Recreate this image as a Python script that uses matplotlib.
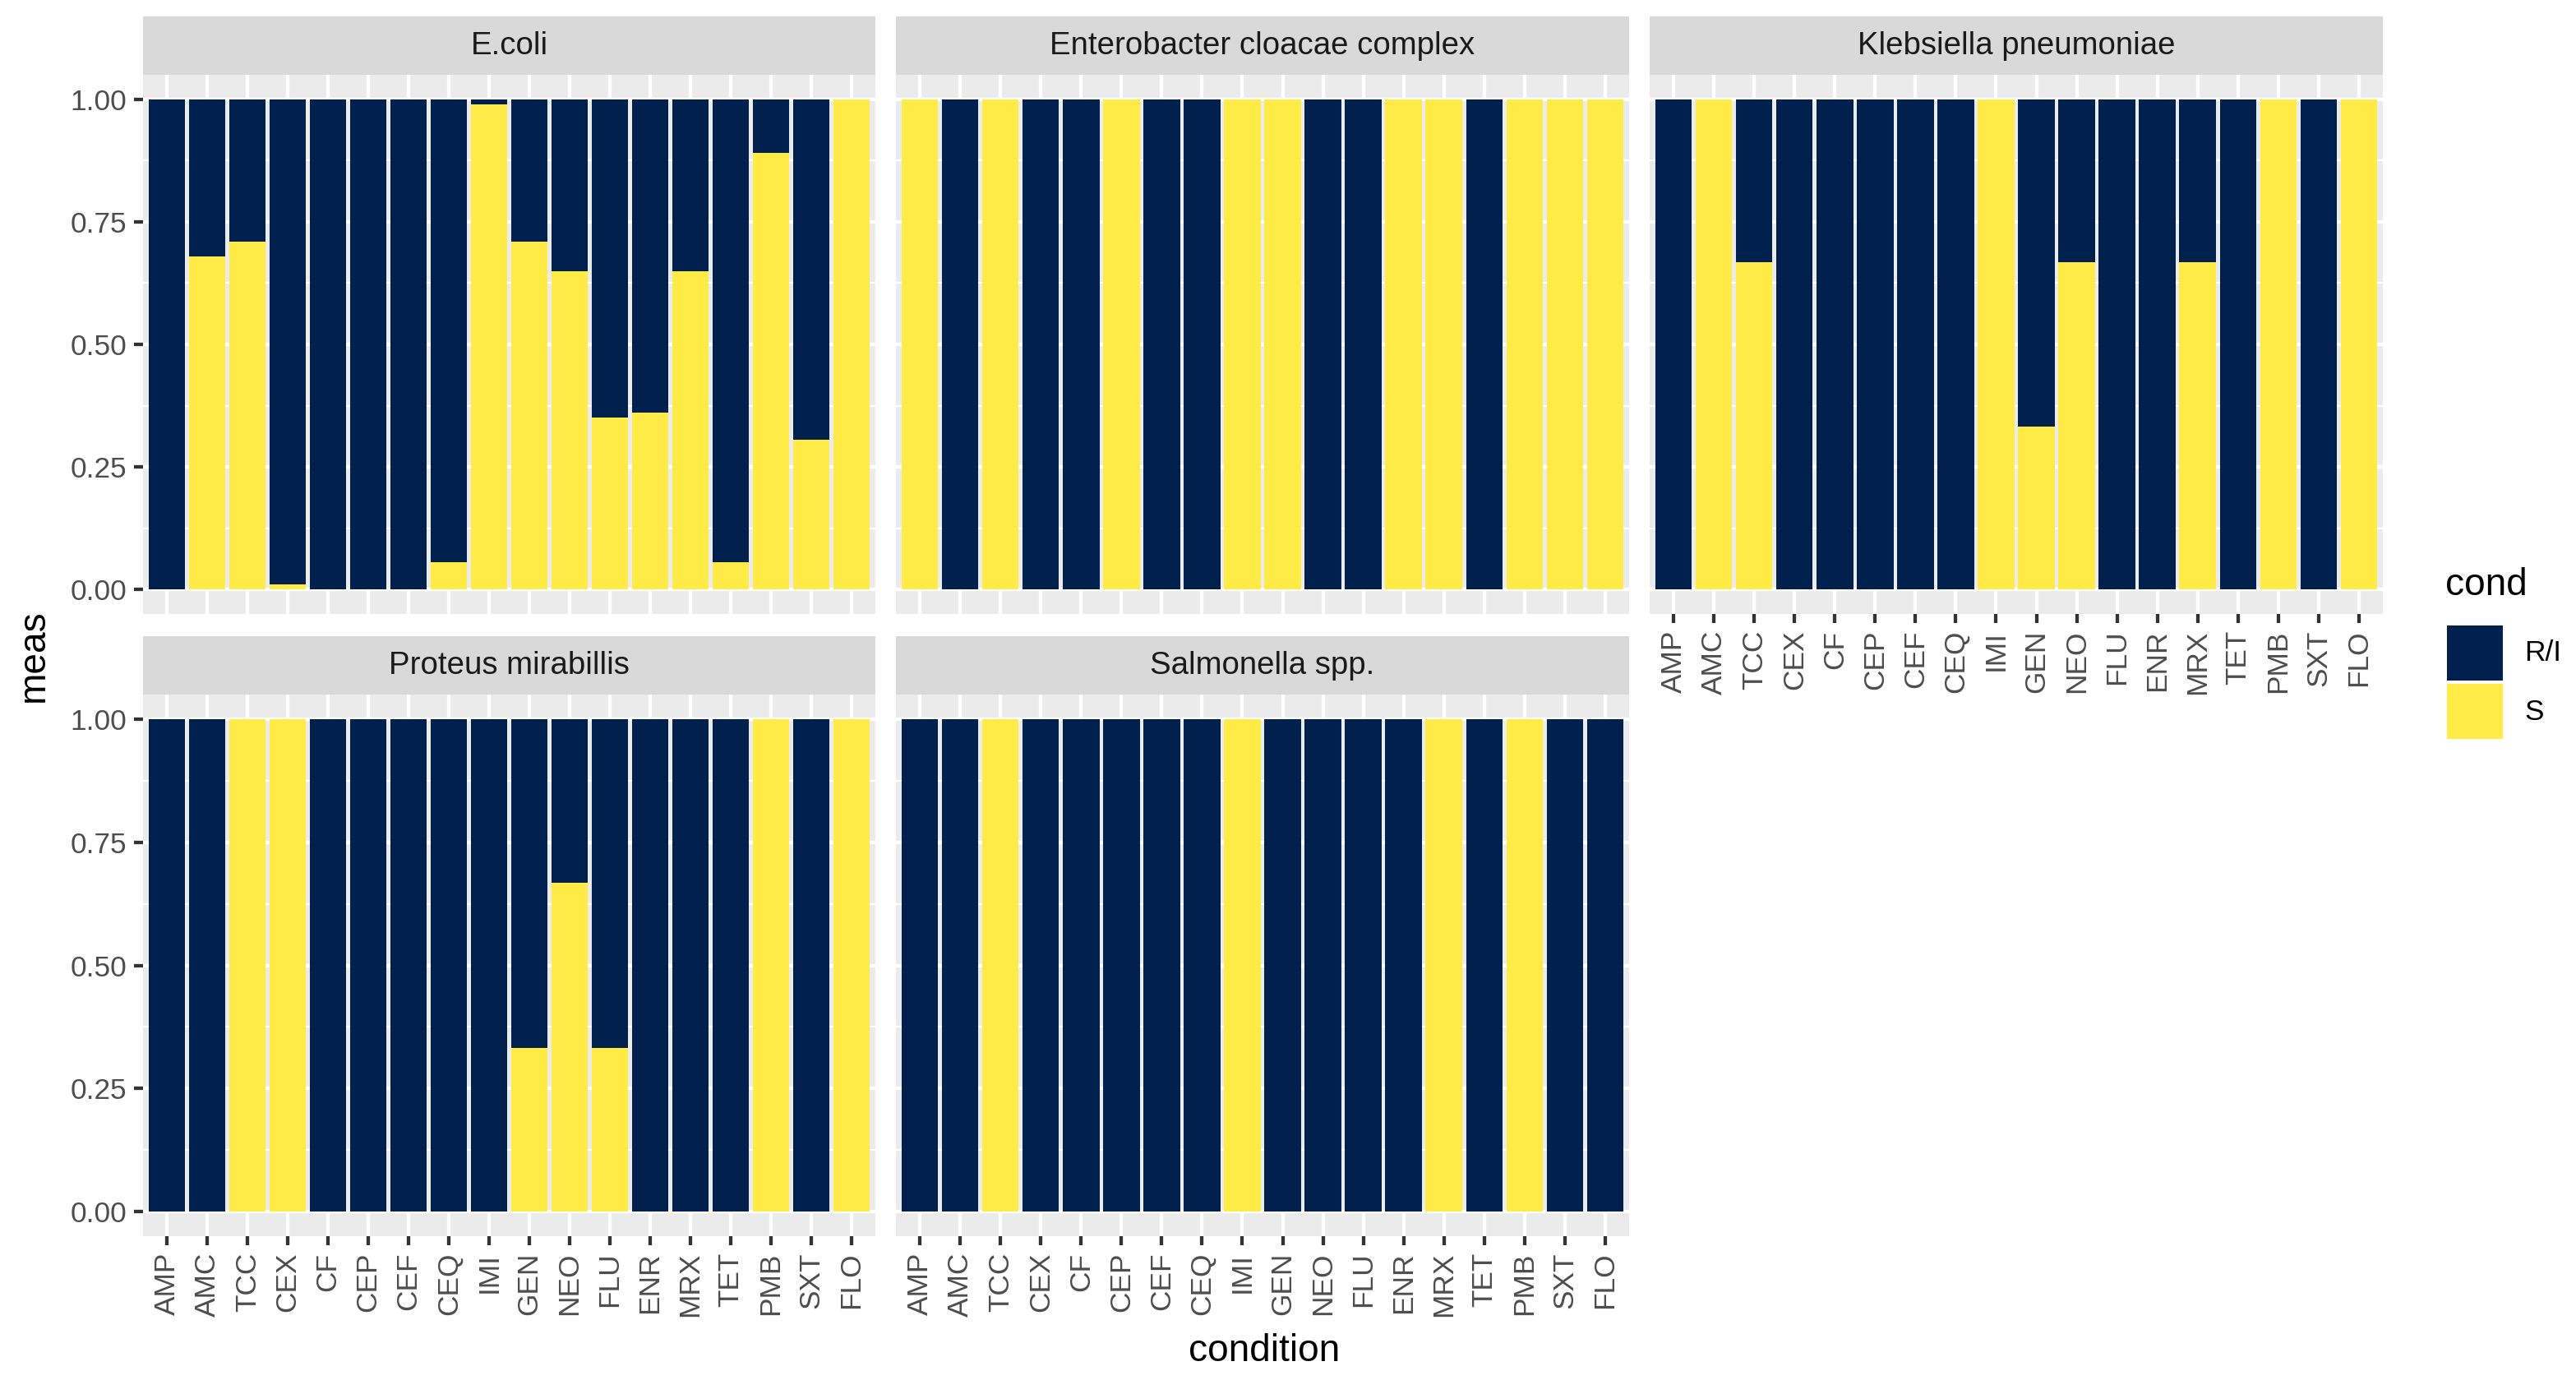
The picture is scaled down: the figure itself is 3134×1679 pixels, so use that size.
import matplotlib
matplotlib.use("Agg")
import matplotlib.pyplot as plt
from matplotlib.patches import Rectangle
import numpy as np

plt.rcParams['font.family'] = ['Liberation Sans', 'DejaVu Sans']

# ---------------- data ----------------
conditions = ["AMP", "AMC", "TCC", "CEX", "CF", "CEP", "CEF", "CEQ", "IMI",
              "GEN", "NEO", "FLU", "ENR", "MRX", "TET", "PMB", "SXT", "FLO"]
species = ["E.coli", "Enterobacter cloacae complex", "Klebsiella pneumoniae",
           "Proteus mirabillis", "Salmonella spp."]
levels = ["R/I", "S"]

# fraction susceptible (S); R/I = 1 - S
s_ecoli = [0.00, 0.68, 0.71, 0.01, 0.00, 0.00, 0.00, 0.055, 0.99,
           0.71, 0.65, 0.35, 0.36, 0.65, 0.055, 0.89, 0.305, 1.00]
s_enterobacter = [1, 0, 1, 0, 0, 1, 0, 0, 1,
                  1, 0, 0, 1, 1, 0, 1, 1, 1]
s_klebsiella = [0, 1, 0.667, 0, 0, 0, 0, 0, 1,
                0.333, 0.667, 0, 0, 0.667, 0, 1, 0, 1]
s_proteus = [0, 0, 1, 1, 0, 0, 0, 0, 0,
             0.333, 0.667, 0.333, 0, 0, 0, 1, 0, 1]
s_salmonella = [0, 0, 1, 0, 0, 0, 0, 0, 1,
                0, 0, 0, 0, 1, 0, 1, 0, 0]
s_values = [s_ecoli, s_enterobacter, s_klebsiella, s_proteus, s_salmonella]

y_ticks = [0.0, 0.25, 0.5, 0.75, 1.0]
y_ticklabels = ["0.00", "0.25", "0.50", "0.75", "1.00"]

# ---------------- style ----------------
NAVY = "#00204D"
YELLOW = "#FFEA46"
PANEL_BG = "#EBEBEB"
STRIP_BG = "#D9D9D9"
W, H = 3134, 1679
DPI = 288

fig = plt.figure(figsize=(W / DPI, H / DPI), dpi=DPI)
fig.patch.set_facecolor("white")


def add_px_axes(x0, y0, x1, y1):
    return fig.add_axes([x0 / W, 1 - y1 / H, (x1 - x0) / W, (y1 - y0) / H])


cols = [(174, 1065), (1090, 1982), (2007, 2899)]
rows = [((20, 91), (91, 747)), ((774, 845), (845, 1504))]
positions = [(0, 0), (0, 1), (0, 2), (1, 0), (1, 1)]
show_y = [True, False, False, True, False]
show_x = [False, False, True, True, True]

major_lw = 1.07
minor_lw = 0.53
xpos = np.arange(len(conditions))

for i, name in enumerate(species):
    r, c = positions[i]
    (sx0, sx1) = cols[c]
    (st0, st1), (py0, py1) = rows[r]
    # strip
    sax = add_px_axes(sx0, st0, sx1, st1)
    sax.set_facecolor(STRIP_BG)
    sax.set_xticks([]); sax.set_yticks([])
    for sp in sax.spines.values():
        sp.set_visible(False)
    sax.text(0.5, 0.5, name, ha="center", va="center", fontsize=9.6,
             color="#1A1A1A", transform=sax.transAxes)

    ax = add_px_axes(sx0, py0, sx1, py1)
    ax.set_facecolor(PANEL_BG)
    for sp in ax.spines.values():
        sp.set_visible(False)
    s = np.array(s_values[i], dtype=float)
    ri = 1 - s
    ax.bar(xpos, s, width=0.9, color=YELLOW, linewidth=0, zorder=2)
    ax.bar(xpos, ri, bottom=s, width=0.9, color=NAVY, linewidth=0, zorder=2)
    ax.set_xlim(-0.6, len(conditions) - 0.4)
    ax.set_ylim(-0.05, 1.05)
    # grid
    for yv in [0.125, 0.375, 0.625, 0.875]:
        ax.axhline(yv, color="white", lw=minor_lw, zorder=1)
    for yv in y_ticks:
        ax.axhline(yv, color="white", lw=major_lw, zorder=1)
    for xv in xpos:
        ax.axvline(xv, color="white", lw=major_lw, zorder=1)

    ax.set_yticks(y_ticks)
    ax.set_xticks(xpos)
    ax.tick_params(axis="both", length=2.75, width=major_lw, color="#333333",
                   labelcolor="#4D4D4D", labelsize=8.8, pad=2.2)
    if show_y[i]:
        ax.set_yticklabels(y_ticklabels)
    else:
        ax.tick_params(axis="y", left=False, labelleft=False)
    if show_x[i]:
        ax.set_xticklabels(conditions, rotation=90)
    else:
        ax.tick_params(axis="x", bottom=False, labelbottom=False)

# axis titles
fig.text(41 / W, 1 - 798 / H, "meas", rotation=90, ha="center", va="center",
         fontsize=11.5, color="black")
fig.text(1538 / W, 1 - 1644 / H, "condition", ha="center", va="center",
         fontsize=11.5, color="black")

# legend
lax = add_px_axes(2950, 660, 3134, 930)
lax.set_xlim(2950, 3134)
lax.set_ylim(930, 660)
lax.axis("off")
lax.text(2975, 712, "cond", ha="left", va="center", fontsize=11.5, color="black")
key_cols = [NAVY, YELLOW]
for k, lab in enumerate(levels):
    y0 = 761 + k * 71
    lax.add_patch(Rectangle((2977, y0), 68, 67, facecolor=key_cols[k],
                            edgecolor="none"))
    lax.text(3071, y0 + 34, lab, ha="left", va="center", fontsize=8.8,
             color="black")

fig.savefig("out.png", dpi=DPI, facecolor="white")
